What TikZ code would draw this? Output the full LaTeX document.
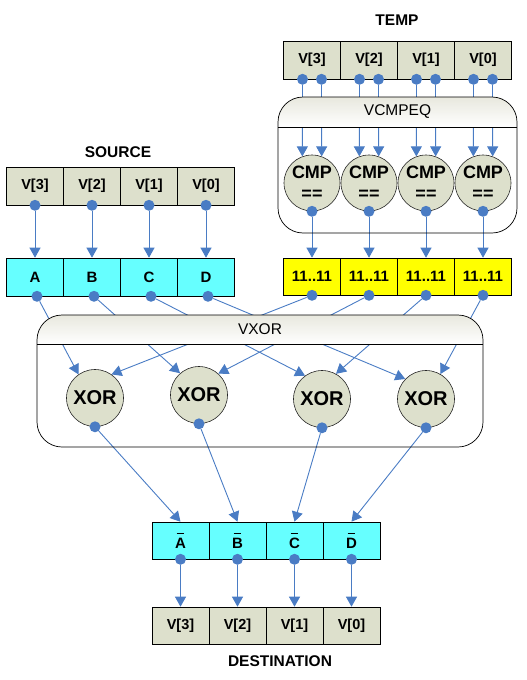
\documentclass[tikz,border=0pt]{standalone}
\usepackage{fontspec}
\setmainfont{Liberation Sans}
\usetikzlibrary{arrows.meta,calc}
\definecolor{lblue}{RGB}{74,124,196}
\definecolor{vgray}{RGB}{221,224,204}
\definecolor{cyanbox}{RGB}{102,255,255}
\definecolor{ybox}{RGB}{255,255,0}
\definecolor{hdtop}{RGB}{232,232,222}
\pgfdeclarelayer{lines}
\pgfdeclarelayer{frames}
\pgfsetlayers{lines,frames,main}
\newcommand{\barletter}[1]{\leavevmode\hbox{\setbox0=\hbox{#1}\rlap{\hbox to \wd0{\hss\raisebox{\dimexpr\ht0+3.5pt\relax}{\rule{0.72\wd0}{1.2pt}}\hss}}\box0}}
\tikzset{
 cell/.style={rectangle, draw=black, line width=0.6pt, minimum width=57pt, minimum height=38pt, inner sep=0pt, font=\bfseries\fontsize{14.5}{17}\selectfont},
 vcell/.style={cell, fill=vgray},
 ccell/.style={cell, fill=cyanbox, font=\bfseries\fontsize{15}{18}\selectfont},
 ycell/.style={cell, fill=ybox, font=\bfseries\fontsize{15}{18}\selectfont},
 op/.style={circle, draw=black!85, line width=0.6pt, fill=vgray, minimum size=57pt, inner sep=0pt},
 bdot/.style={circle, fill=lblue, minimum size=11pt, inner sep=0pt},
 conn/.style={draw=lblue, line width=0.9pt, -{Triangle[length=10pt,width=11pt]}},
 title/.style={font=\bfseries\fontsize{15.5}{18}\selectfont},
 frame/.style={draw=black, line width=0.7pt, rounded corners=25pt},
 hdr/.style={font=\fontsize{15.5}{18}\selectfont},
}
\begin{document}
\begin{tikzpicture}[x=1pt,y=-1pt]
\useasboundingbox (0,0) rectangle (527,680);

% titles
\node[title] (ttemp) at (397,20) {TEMP};
\node[title] (tsrc) at (118,152) {SOURCE};
\node[title] (tdst) at (280,661) {DESTINATION};

% TEMP row, comparators, yellow results
\foreach \i/\x in {3/312,2/369,1/426,0/483}{
  \node[vcell] (t\i) at (\x,60) {V[\i]};
  \node[op, minimum size=56pt, align=center, font=\bfseries\fontsize{18}{21}\selectfont] (c\i) at (\x,183) {CMP\\==};
  \node[ycell, minimum height=37pt] (y\i) at (\x,276.5) {11..11};
}
\foreach \i in {3,2,1,0}{
  \node[bdot] (ta\i) at ([xshift=-9.5pt]t\i.south) {};
  \node[bdot] (tb\i) at ([xshift=9.5pt]t\i.south) {};
  \node[bdot] (cd\i) at (c\i.south) {};
  \node[bdot] (yd\i) at (y\i.south) {};
}

% SOURCE row and A..D
\foreach \i/\x/\L in {3/35/A,2/92/B,1/149/C,0/206/D}{
  \node[vcell] (s\i) at (\x,186) {V[\i]};
  \node[ccell] (r\L) at (\x,277) {\L};
  \node[bdot] (sd\i) at (s\i.south) {};
  \node[bdot] (rd\L) at ([xshift=2pt]r\L.south) {};
}

% XOR units
\node[op, font=\bfseries\fontsize{20}{24}\selectfont] (x1) at (95,398) {XOR};
\node[op, font=\bfseries\fontsize{20}{24}\selectfont] (x2) at (199,395) {XOR};
\node[op, font=\bfseries\fontsize{20}{24}\selectfont] (x3) at (322,399) {XOR};
\node[op, font=\bfseries\fontsize{20}{24}\selectfont] (x4) at (426,399) {XOR};
\foreach \k in {1,2,3,4}{ \node[bdot] (xd\k) at (x\k.south) {}; }

% DESTINATION
\foreach \i/\x/\L in {3/180.5/A,2/237.5/B,1/294.5/C,0/351.5/D}{
  \node[ccell, minimum height=37pt] (n\L) at (\x,540.5) {\barletter{\L}};
  \node[vcell, minimum height=37pt] (v\i) at (\x,625.5) {V[\i]};
  \node[bdot] (nd\L) at (n\L.south) {};
}

% container labels
\node[hdr] (lcmp) at (397.5,112) {VCMPEQ};
\node[hdr] (lxor) at (260,329.5) {VXOR};

% frames
\begin{pgfonlayer}{frames}
  \begin{scope}
    \clip[rounded corners=25pt] (278,97) rectangle (517,233);
    \shade[top color=hdtop, bottom color=white] (278,97) rectangle (517,127);
  \end{scope}
  \draw[frame] (278,97) rectangle (517,233);
  \draw[line width=0.7pt] (278,127) -- (517,127);
  \begin{scope}
    \clip[rounded corners=25pt] (37,315) rectangle (483,447);
    \shade[top color=hdtop, bottom color=white] (37,315) rectangle (483,344);
  \end{scope}
  \draw[frame] (37,315) rectangle (483,447);
  \draw[line width=0.7pt] (37,344) -- (483,344);
\end{pgfonlayer}

% connectors
\begin{pgfonlayer}{lines}
  \foreach \i in {3,2,1,0}{
    \draw[conn] (ta\i) -- (c\i.110);
    \draw[conn] (tb\i) -- (c\i.70);
    \draw[conn] (cd\i) -- (y\i.north);
  }
  \foreach \i/\L in {3/A,2/B,1/C,0/D}{
    \draw[conn] (sd\i) -- (r\L.north);
  }
  \draw[conn] (rdA) -- (x1.125);
  \draw[conn] (yd3) -- (x1.55);
  \draw[conn] (rdB) -- (x2.131);
  \draw[conn] (yd2) -- (x2.48);
  \draw[conn] (rdC) -- (x3.126);
  \draw[conn] (yd1) -- (x3.61);
  \draw[conn] (rdD) -- (x4.136);
  \draw[conn] (yd0) -- (x4.60);
  \draw[conn] (xd1) -- (nA.north);
  \draw[conn] (xd2) -- (nB.north);
  \draw[conn] (xd3) -- (nC.north);
  \draw[conn] (xd4) -- (nD.north);
  \foreach \i/\L in {3/A,2/B,1/C,0/D}{
    \draw[conn] (nd\L) -- (v\i.north);
  }
\end{pgfonlayer}
\end{tikzpicture}
\end{document}
